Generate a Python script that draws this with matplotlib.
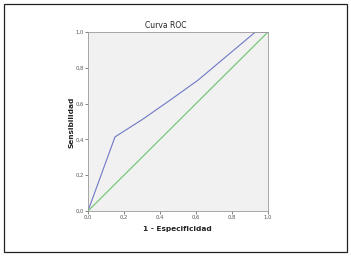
import matplotlib.pyplot as plt
from matplotlib.patches import Rectangle

# datos de la curva ROC
fpr = [0.0, 0.15, 0.30, 0.45, 0.61, 0.93, 1.0]
tpr = [0.0, 0.414, 0.51, 0.615, 0.73, 1.0, 1.0]
ref = [0.0, 1.0]
ticks = [0.0, 0.2, 0.4, 0.6, 0.8, 1.0]
tick_labels = ["0,0", "0,2", "0,4", "0,6", "0,8", "1,0"]

fig = plt.figure(figsize=(3.51, 2.56), dpi=100)
fig.patches.append(Rectangle((4 / 351, 4 / 256), 343 / 351, 248 / 256,
                             transform=fig.transFigure, fill=False,
                             edgecolor="#222222", linewidth=0.9))

ax = fig.add_axes([88 / 351, 45 / 256, 180 / 351, 179 / 256])
ax.set_facecolor("#f0f1f0")
ax.plot(fpr, tpr, color="#7078c8", linewidth=0.8)
ax.plot(ref, ref, color="#6cc46c", linewidth=0.8)
ax.set_xlim(0, 1)
ax.set_ylim(0, 1)
ax.set_xticks(ticks)
ax.set_xticklabels(tick_labels)
ax.set_yticks(ticks)
ax.set_yticklabels(tick_labels)
ax.tick_params(labelsize=3.8, length=2, width=0.5, pad=1,
               colors="#555555", labelcolor="#555555")
for s in ax.spines.values():
    s.set_color("#999999")
    s.set_linewidth(0.6)

fig.text(166 / 351, 1 - 26 / 256, "Curva ROC", ha="center", va="center",
         fontsize=5.5, color="#222222")
fig.text(177 / 351, 1 - 229 / 256, "1 - Especificidad", ha="center",
         va="center", fontsize=5.3, fontweight="bold", color="#222222")
fig.text(71 / 351, 1 - 122 / 256, "Sensibilidad", ha="center", va="center",
         rotation=90, fontsize=5.3, fontweight="bold", color="#222222")

plt.savefig("out.png", dpi=100)
